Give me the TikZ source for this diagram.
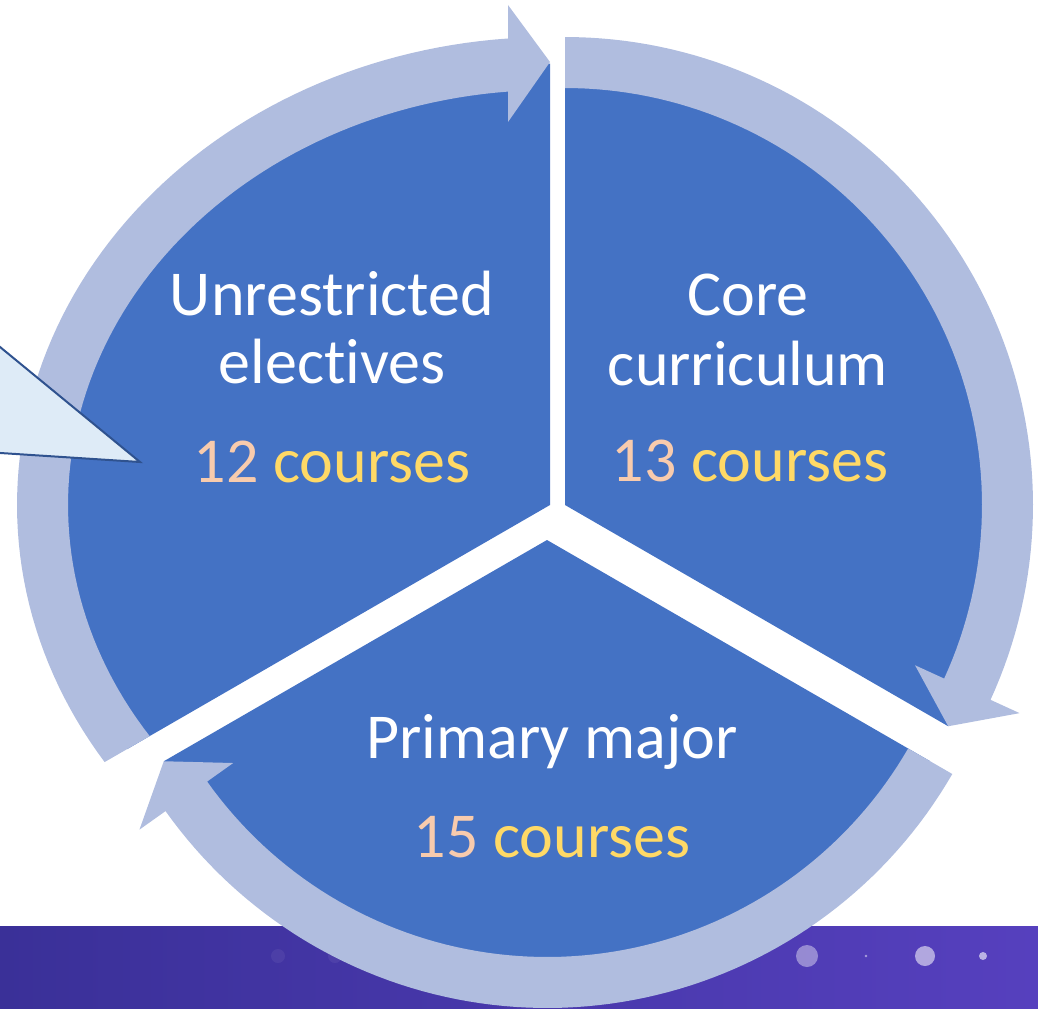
\documentclass[tikz,border=0pt]{standalone}
\usepackage{fontspec}
\setmainfont{Carlito}[Ligatures=NoCommon]
\definecolor{segblue}{HTML}{4472C4}
\definecolor{ringblue}{HTML}{B0BDDF}
\definecolor{callfill}{HTML}{DEEBF7}
\definecolor{calldraw}{HTML}{2F528F}
\definecolor{numpeach}{HTML}{F8CBAD}
\definecolor{coursegold}{HTML}{FFD966}
\definecolor{banleft}{RGB}{58,48,152}
\definecolor{banright}{RGB}{86,64,190}
\begin{document}
\begin{tikzpicture}[x=0.75pt,y=-0.75pt,
  seg/.style={fill=segblue,draw=none},
  ringarrow/.style={fill=ringblue,draw=none},
  lbl/.style={text=white,font=\fontsize{48}{52}\selectfont,anchor=base,inner sep=0pt},
  cnt/.style={font=\fontsize{48}{52}\selectfont,anchor=base,inner sep=0pt},
  dot/.style={draw=none}]
\useasboundingbox (0,0) rectangle (1038,1009);
\clip (0,0) rectangle (1038,1009);
% banner
\shade[left color=banleft,right color=banright] (0,926) rectangle (1038,1009);
\fill[dot,fill=white,opacity=0.06] (278,956) circle (7);
\fill[dot,fill=white,opacity=0.06] (335,956) circle (7);
\fill[dot,fill=white,opacity=0.4] (807,956) circle (11);
\fill[dot,fill=white,opacity=0.55] (925,956) circle (10);
\fill[dot,fill=white,opacity=0.6] (983,956) circle (4);
\fill[dot,fill=white,opacity=0.5] (866,956) circle (1.3);
% blue segments
\fill[seg] (550,505) -- (127.1,749.1) -- plot[domain=146.43:270,samples=80,variable=\t] ({550+507.5*cos(\t)},{505+441.5*sin(\t)}) -- cycle;
\fill[seg] (565,505) -- plot[domain=-90:30,samples=80,variable=\t] ({565+442.5*cos(\t)},{505+442.5*sin(\t)}) -- cycle;
\fill[seg] (547,540) -- plot[domain=30:150,samples=80,variable=\t] ({547+442.5*cos(\t)},{540+442.5*sin(\t)}) -- cycle;
% ring arrows
\fill[ringarrow] plot[domain=146.16:265.0,samples=80,variable=\t] ({550+482*cos(\t)},{505+415*sin(\t)})
  -- (508,122) -- (550,62) -- (508,5)
  -- plot[domain=265.48:146.68,samples=80,variable=\t] ({550+533*cos(\t)},{505+468*sin(\t)}) -- cycle;
\fill[ringarrow] plot[domain=-90:24.6,samples=80,variable=\t] ({565+417*cos(\t)},{505+417*sin(\t)})
  -- ({565+385*cos(24.6)},{505+385*sin(24.6)})
  -- ({565+442.5*cos(30)},{505+442.5*sin(30)})
  -- ({565+500*cos(24.6)},{505+500*sin(24.6)})
  -- plot[domain=24.6:-90,samples=80,variable=\t] ({565+468*cos(\t)},{505+468*sin(\t)}) -- cycle;
\fill[ringarrow] plot[domain=30:144.6,samples=80,variable=\t] ({547+417*cos(\t)},{540+417*sin(\t)})
  -- ({547+385*cos(144.6)},{540+385*sin(144.6)})
  -- ({547+442.5*cos(150)},{540+442.5*sin(150)})
  -- ({547+500*cos(144.6)},{540+500*sin(144.6)})
  -- plot[domain=144.6:30,samples=80,variable=\t] ({547+468*cos(\t)},{540+468*sin(\t)}) -- cycle;
% callout
\filldraw[fill=callfill,draw=calldraw,line width=1.5pt,line join=miter] (-40,314.1) -- (140,462) -- (-40,450.4) -- cycle;
% labels
\node[lbl] (ue1) at (332,315) {Unrestricted};
\node[lbl] (ue2) at (332,383) {electives};
\node[cnt] (ue3) at (332,482) {\textcolor{numpeach}{12} \textcolor{coursegold}{courses}};
\node[lbl] (cc1) at (748,315) {Core};
\node[lbl] (cc2) at (748,385) {curriculum};
\node[cnt] (cc3) at (750,481) {\textcolor{numpeach}{13} \textcolor{coursegold}{courses}};
\node[lbl] (pm1) at (552,758) {Primary major};
\node[cnt] (pm2) at (552,857) {\textcolor{numpeach}{15} \textcolor{coursegold}{courses}};
\end{tikzpicture}
\end{document}
